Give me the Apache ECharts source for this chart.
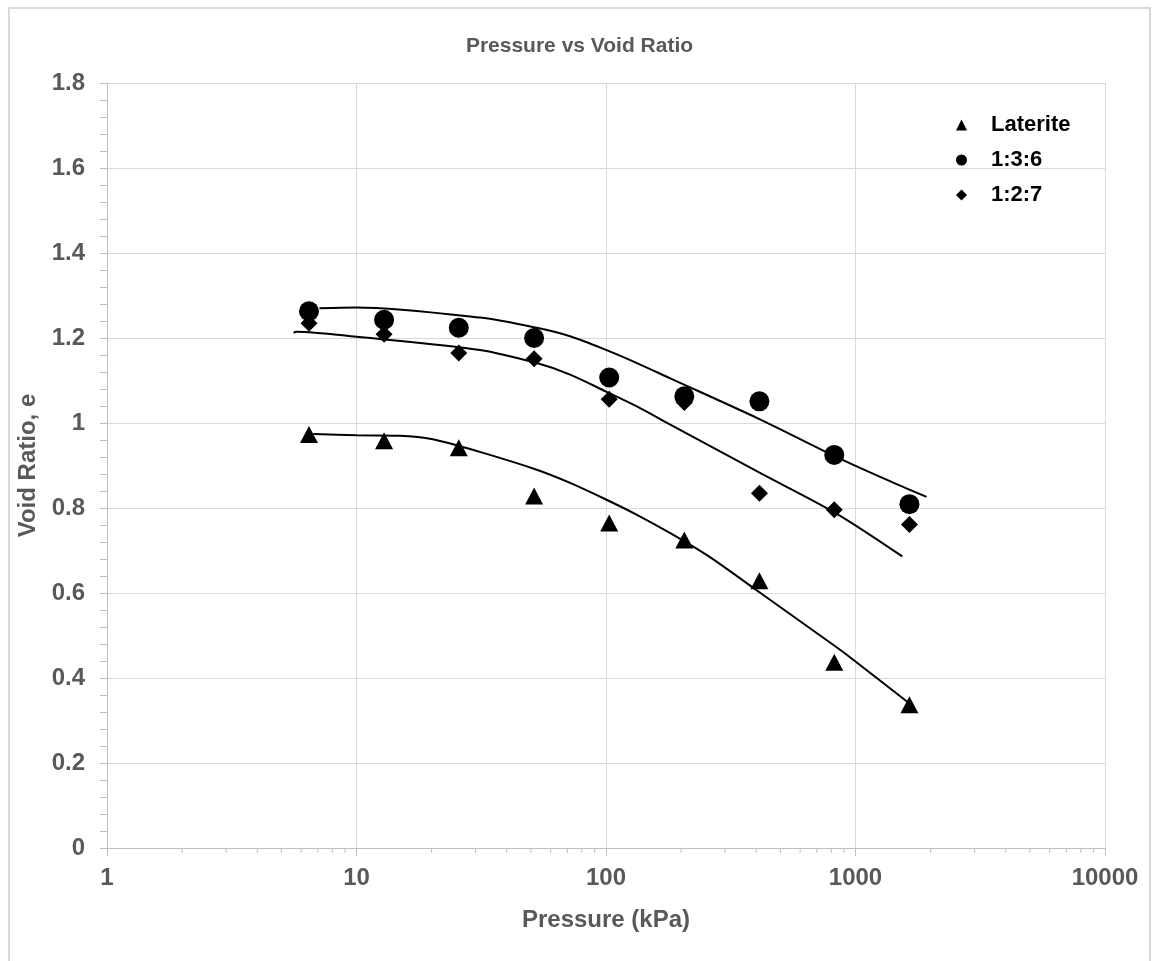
<!DOCTYPE html>
<html>
<head>
<meta charset="utf-8">
<title>Pressure vs Void Ratio</title>
<script src="https://cdn.jsdelivr.net/npm/echarts@6/dist/echarts.min.js"></script>
<style>
html, body { margin: 0; padding: 0; background: #fff; }
#main { width: 1159px; height: 961px; }
</style>
</head>
<body>
<div id="main"></div>
<script>
// test pressures (kPa)
var pressure = [6.45, 12.9, 25.7, 51.5, 103, 206, 412, 822, 1645];
// void ratio, measured points
var laterite = [0.973, 0.958, 0.942, 0.828, 0.765, 0.725, 0.629, 0.437, 0.337];
var mix136 = [1.263, 1.243, 1.224, 1.200, 1.107, 1.063, 1.051, 0.925, 0.809];
var mix127 = [1.235, 1.209, 1.165, 1.151, 1.056, 1.048, 0.835, 0.796, 0.761];

// trend lines: [pressure, e]
var trendLaterite = [[6.7, 0.974], [10, 0.971], [14.9, 0.970], [20.2, 0.962], [31.2, 0.932], [52.8, 0.890],
    [71.8, 0.859], [100, 0.820], [133, 0.784], [181, 0.741], [254, 0.689], [416, 0.600], [832, 0.474],
    [1000, 0.439], [1637, 0.341]];
var trend136 = [[7.1, 1.270], [10, 1.272], [31.2, 1.248], [52.8, 1.224], [71.8, 1.204], [100, 1.172],
    [133, 1.141], [181, 1.105], [416, 1.008], [832, 0.921], [1425, 0.859], [1927, 0.826]];
var trend127 = [[5.6, 1.212], [5.74, 1.215], [10, 1.203], [31.2, 1.172], [52.8, 1.141], [71.8, 1.114],
    [100, 1.074], [133, 1.039], [181, 0.996], [416, 0.882], [832, 0.788], [1540, 0.686]];

// minor ticks of the log axis
var minorX = [2, 3, 4, 5, 6, 7, 8, 9, 20, 30, 40, 50, 60, 70, 80, 90, 200, 300, 400, 500, 600, 700, 800, 900,
    2000, 3000, 4000, 5000, 6000, 7000, 8000, 9000];

function pairs(xs, ys) {
    var out = [];
    for (var i = 0; i < xs.length; i++) out.push([xs[i], ys[i]]);
    return out;
}

var chart = echarts.init(document.getElementById('main'));
var grey = '#595959';
var font = 'Liberation Sans, Arial, sans-serif';
var lineStyle = {color: '#000', width: 2};

var option = {
    animation: false,
    backgroundColor: '#fff',
    graphic: [{
        type: 'rect',
        shape: {x: 9, y: 8, width: 1141, height: 980},
        style: {fill: 'none', stroke: '#d9d9d9', lineWidth: 2},
        silent: true
    }],
    title: {
        text: 'Pressure vs Void Ratio',
        left: 'center',
        top: 31,
        textStyle: {color: grey, fontSize: 21, fontWeight: 'bold', fontFamily: font}
    },
    legend: {
        orient: 'vertical',
        left: 951,
        top: 109,
        itemWidth: 11,
        itemHeight: 11,
        itemGap: 13,
        data: ['Laterite', '1:3:6', '1:2:7'],
        textStyle: {color: '#000', fontSize: 22, fontWeight: 'bold', fontFamily: font, padding: [0, 0, 0, 19]}
    },
    grid: {left: 107, right: 54, top: 83, bottom: 113},
    xAxis: {
        type: 'log',
        logBase: 10,
        min: 1,
        max: 10000,
        name: 'Pressure (kPa)',
        nameLocation: 'middle',
        nameGap: 60,
        nameTextStyle: {color: grey, fontSize: 24, fontWeight: 'bold', fontFamily: font},
        axisLine: {lineStyle: {color: '#bfbfbf', width: 1}},
        axisTick: {show: true, length: 8, lineStyle: {color: '#bfbfbf'}},
        axisLabel: {
            color: grey, fontSize: 24, fontWeight: 'bold', fontFamily: font, margin: 18,
            formatter: function (v) { return String(Math.round(v)); }
        },
        splitLine: {show: true, lineStyle: {color: '#d9d9d9', width: 1}}
    },
    yAxis: {
        type: 'value',
        min: 0,
        max: 1.8,
        interval: 0.2,
        name: 'Void Ratio, e',
        nameLocation: 'middle',
        nameGap: 66,
        nameTextStyle: {color: grey, fontSize: 24, fontWeight: 'bold', fontFamily: font},
        axisLine: {show: true, lineStyle: {color: '#bfbfbf', width: 1}},
        axisTick: {show: true, length: 7, lineStyle: {color: '#bfbfbf'}},
        minorTick: {show: true, splitNumber: 5, length: 7, lineStyle: {color: '#bfbfbf'}},
        axisLabel: {
            color: grey, fontSize: 24, fontWeight: 'bold', fontFamily: font, margin: 22,
            formatter: function (v) { return String(Math.round(v * 10) / 10); }
        },
        splitLine: {show: true, lineStyle: {color: '#d9d9d9', width: 1}}
    },
    series: [
        {
            name: 'Laterite', type: 'scatter', symbol: 'triangle', symbolSize: [18, 17],
            itemStyle: {color: '#000', opacity: 1}, data: pairs(pressure, laterite), z: 3
        },
        {
            name: '1:3:6', type: 'scatter', symbol: 'circle', symbolSize: 20,
            itemStyle: {color: '#000', opacity: 1}, data: pairs(pressure, mix136), z: 3
        },
        {
            name: '1:2:7', type: 'scatter', symbol: 'diamond', symbolSize: 17,
            itemStyle: {color: '#000', opacity: 1}, data: pairs(pressure, mix127), z: 3
        },
        {
            name: 'trend laterite', type: 'line', smooth: 0.3, showSymbol: false,
            silent: true, lineStyle: lineStyle, data: trendLaterite, z: 4
        },
        {
            name: 'trend 1:3:6', type: 'line', smooth: 0.3, showSymbol: false,
            silent: true, lineStyle: lineStyle, data: trend136, z: 4
        },
        {
            name: 'trend 1:2:7', type: 'line', smooth: 0.3, showSymbol: false,
            silent: true, lineStyle: lineStyle, data: trend127, z: 4
        },
        {
            // minor ticks along the log axis
            name: 'minor ticks', type: 'custom', silent: true, clip: false,
            data: minorX.map(function (v) { return [v, 0]; }),
            renderItem: function (params, api) {
                var p = api.coord([api.value(0), 0]);
                return {
                    type: 'line',
                    shape: {x1: p[0], y1: p[1], x2: p[0], y2: p[1] + 5},
                    style: {stroke: '#bfbfbf', lineWidth: 1}
                };
            }
        }
    ]
};
chart.setOption(option);
</script>
</body>
</html>
